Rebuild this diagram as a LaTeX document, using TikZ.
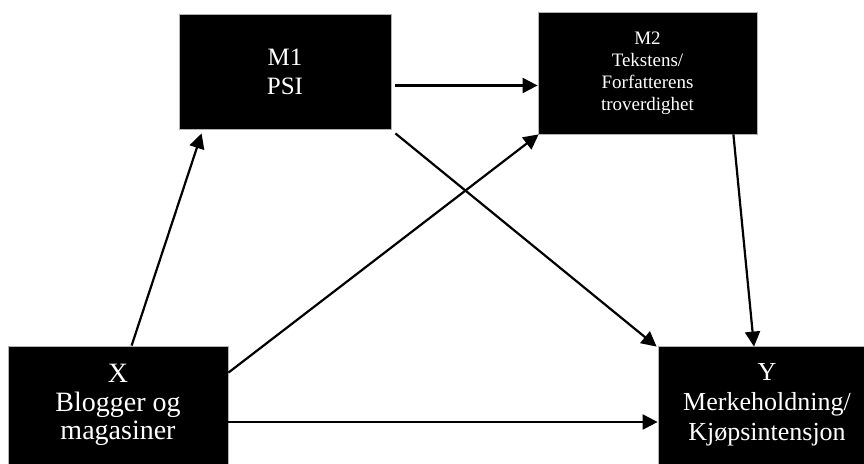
\documentclass[tikz,border=0pt]{standalone}
\usepackage{fontspec}
\setmainfont{Liberation Serif}
\usetikzlibrary{arrows.meta}

\begin{document}
\begin{tikzpicture}[
			x=1pt, y=-1pt,
			varbox/.style={draw=gray!60, line width=0.8pt, fill=black, text=white, align=center, inner sep=0pt},
			path_arrow/.style={line width=2.2pt, -{Triangle[length=15pt,width=15pt]}}
			]
			
			% Frame (same size as the page)
			\useasboundingbox (0,0) rectangle (864,463);
			\clip (0,0) rectangle (864,463);
			
			% Mediators
			\node[varbox, minimum width=212pt, minimum height=115pt, font=\fontsize{25}{29}\selectfont] (m1) at (285,71.5) {M1\\PSI};
			\node[varbox, minimum width=219pt, minimum height=122pt, font=\fontsize{19}{22}\selectfont] (m2) at (647.5,73) {M2\\Tekstens/\\Forfatterens\\troverdighet};
			
			% Independent and dependent variable (cut by the lower edge)
			\node[varbox, minimum width=220pt, minimum height=118pt, font=\fontsize{28}{28.5}\selectfont] (x) at (118,405) {X\\Blogger og\\magasiner};
			\node[varbox, minimum width=218pt, minimum height=118pt, font=\fontsize{26}{30}\selectfont] (y) at (767,405) {Y\\Merkeholdning/\\Kjøpsintensjon};
			
			% Connection points
			\coordinate (m1_out) at ([shift={(4,14)}]m1.east);
			\coordinate (x_out) at ([shift={(0,17)}]x.east);
			
			% Paths
			\draw[path_arrow] ([shift={(124,0)}]x.north west) -- ([shift={(23,4)}]m1.south west);
			\draw[path_arrow] ([shift={(0,27)}]x.north east) -- ([shift={(1,0)}]m2.south west);
			\draw[path_arrow] (x_out) -- (x_out -| y.west);
			\draw[path_arrow] (m1_out) -- (m1_out -| m2.west);
			\draw[path_arrow] ([shift={(4,4)}]m1.south east) -- ([shift={(-1,1)}]y.north west);
			\draw[path_arrow] ([shift={(-24,0)}]m2.south east) -- ([shift={(-13,1)}]y.north);
			
		\end{tikzpicture}
\end{document}
